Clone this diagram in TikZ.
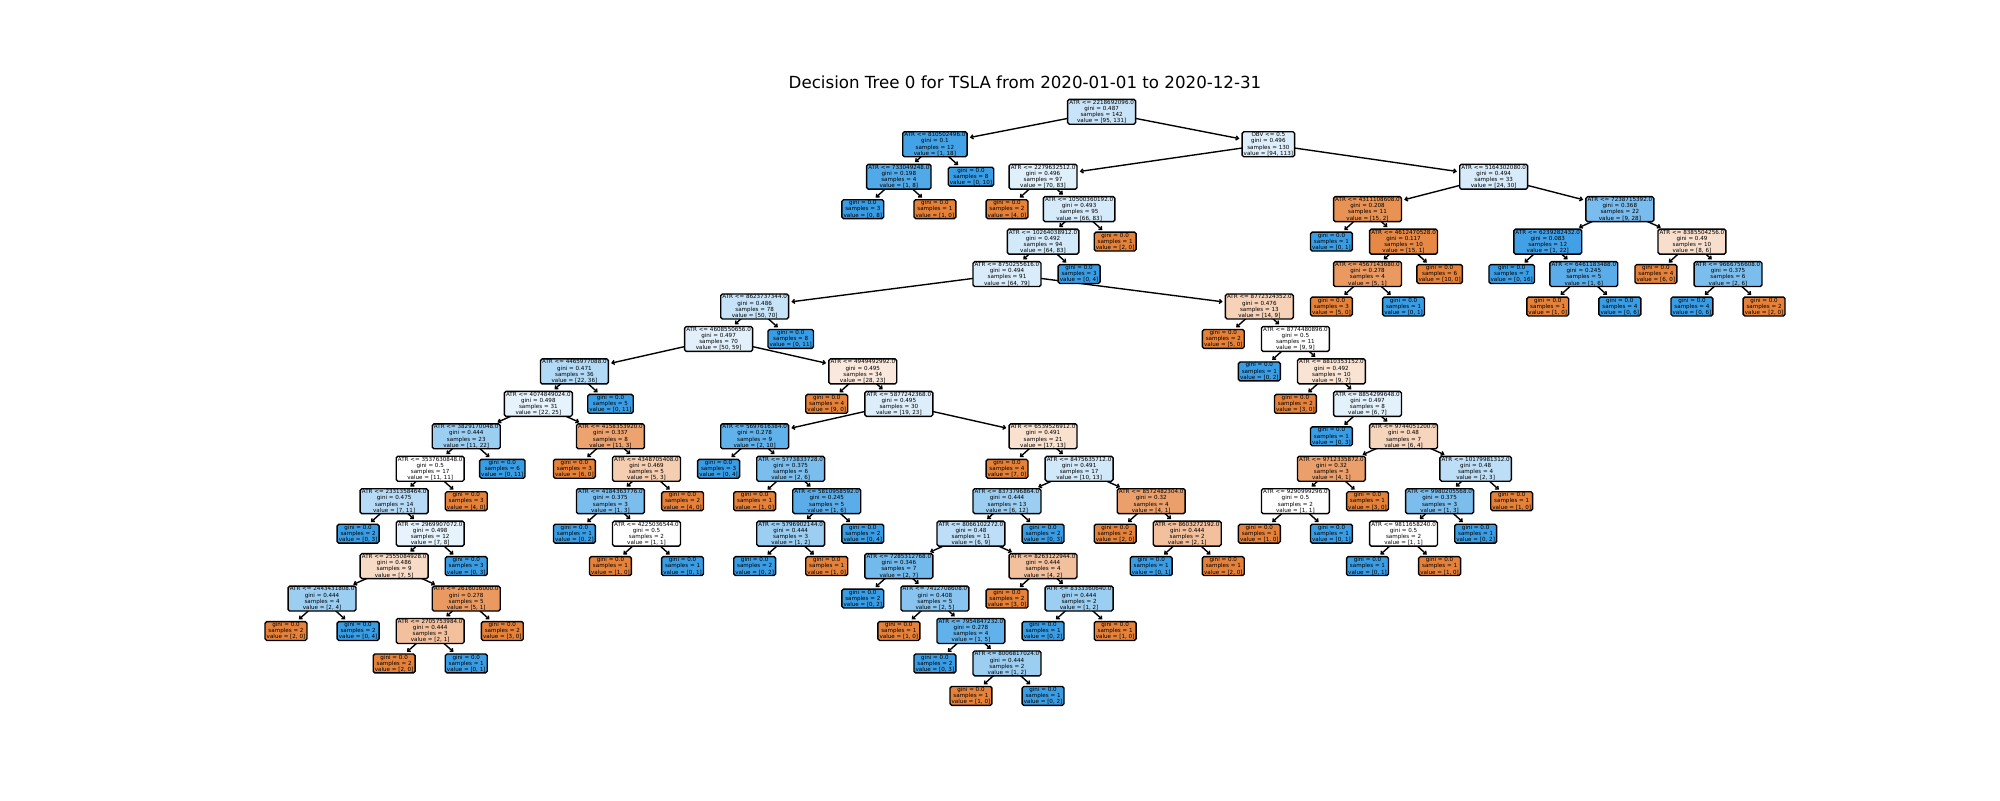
\documentclass[tikz,border=0pt]{standalone}
\usepackage{fontspec}
\setmainfont{DejaVu Sans}
\usetikzlibrary{arrows.meta}
\pgfdeclarelayer{background}
\pgfdeclarelayer{canvas}
\pgfsetlayers{canvas,background,main}
\definecolor{cA}{RGB}{229,129,57}
\definecolor{cB}{RGB}{57,157,229}
\newcommand\dtfill[2]{%
  \pgfmathsetmacro\dtal{100*(1-min(#1,#2)/max(#1,#2))}%
  \ifnum#1<#2\relax\colorlet{dtfc}{cB!\dtal!white}\else\colorlet{dtfc}{cA!\dtal!white}\fi}
% split node: name, k, depth, feature, threshold, gini, samples, a, b
\newcommand\sn[9]{\dtfill{#8}{#9}%
  \node[dtbox, fill=dtfc] (#1) at ({286+36.05*#2},{111.8+32.45*#3}) {#4 <= #5\\gini = #6\\samples = #7\\value = [#8, #9]};}
% leaf node: name, k, depth, samples, a, b
\newcommand\lf[6]{\dtfill{#5}{#6}%
  \node[dtbox, fill=dtfc] (#1) at ({286+36.05*#2},{111.8+32.45*#3}) {gini = 0.0\\samples = #4\\value = [#5, #6]};}
\newcommand\ed[2]{\draw[edge] (#1.center) -- (#2);}
\tikzset{
  dtbox/.style={draw=black, line width=1pt, rounded corners=1.2pt, inner xsep=1.2pt, inner ysep=0.55pt,
    align=center, font=\fontsize{4.03}{4.45}\selectfont, text=black},
  edge/.style={line width=1pt, -{Straight Barb[length=1.7pt,width=3pt]}, shorten >=1.5pt},
}
\begin{document}
\begin{tikzpicture}[x=0.72pt, y=-0.72pt]
\begin{pgfonlayer}{canvas}
\path[use as bounding box, fill=white] (0,0) rectangle (2000,800);
\end{pgfonlayer}
\node[font=\fontsize{12}{14}\selectfont, anchor=base] (title) at (1025,88) {Decision Tree 0 for TSLA from 2020-01-01 to 2020-12-31};
% splits
\sn{r}{22.625}{0}{ATR}{2218692096.0}{0.487}{142}{95}{131}
\sn{s810}{18}{1}{ATR}{810502496.0}{0.1}{12}{1}{18}
\sn{s733}{17}{2}{ATR}{733049248.0}{0.198}{4}{1}{8}
\sn{obv}{27.25}{1}{OBV}{0.5}{0.496}{130}{94}{113}
\sn{s2279}{21}{2}{ATR}{2279632512.0}{0.496}{97}{70}{83}
\sn{s10500}{22}{3}{ATR}{10500360192.0}{0.493}{95}{66}{83}
\sn{s10264}{21}{4}{ATR}{10264038912.0}{0.492}{94}{64}{83}
\sn{s8750}{20}{5}{ATR}{8750255616.0}{0.494}{91}{64}{79}
\sn{s8623}{13}{6}{ATR}{8623737344.0}{0.486}{78}{50}{70}
\sn{s4608}{12}{7}{ATR}{4608550656.0}{0.497}{70}{50}{59}
\sn{s4465}{8}{8}{ATR}{4465977088.0}{0.471}{36}{22}{36}
\sn{s4074}{7}{9}{ATR}{4074849024.0}{0.498}{31}{22}{25}
\sn{s3829}{5}{10}{ATR}{3829170048.0}{0.444}{23}{11}{22}
\sn{s3537}{4}{11}{ATR}{3537630848.0}{0.5}{17}{11}{11}
\sn{s2331}{3}{12}{ATR}{2331358464.0}{0.475}{14}{7}{11}
\sn{s2969}{4}{13}{ATR}{2969907072.0}{0.498}{12}{7}{8}
\sn{s2555}{3}{14}{ATR}{2555084928.0}{0.486}{9}{7}{5}
\sn{s2443}{1}{15}{ATR}{2443431808.0}{0.444}{4}{2}{4}
\sn{s2616}{5}{15}{ATR}{2616016000.0}{0.278}{5}{5}{1}
\sn{s2705}{4}{16}{ATR}{2705753984.0}{0.444}{3}{2}{1}
\sn{s4158}{9}{10}{ATR}{4158353920.0}{0.337}{8}{11}{3}
\sn{s4348}{10}{11}{ATR}{4348705408.0}{0.469}{5}{5}{3}
\sn{s4184}{9}{12}{ATR}{4184363776.0}{0.375}{3}{1}{3}
\sn{s4225}{10}{13}{ATR}{4225036544.0}{0.5}{2}{1}{1}
\sn{s4949}{16}{8}{ATR}{4949492992.0}{0.495}{34}{28}{23}
\sn{s5877}{17}{9}{ATR}{5877242368.0}{0.495}{30}{19}{23}
\sn{s5697}{13}{10}{ATR}{5697616384.0}{0.278}{9}{2}{10}
\sn{s5773}{14}{11}{ATR}{5773833728.0}{0.375}{6}{2}{6}
\sn{s5810}{15}{12}{ATR}{5810958592.0}{0.245}{5}{1}{6}
\sn{s5796}{14}{13}{ATR}{5796902144.0}{0.444}{3}{1}{2}
\sn{s6539}{21}{10}{ATR}{6539526912.0}{0.491}{21}{17}{13}
\sn{s8475}{22}{11}{ATR}{8475635712.0}{0.491}{17}{10}{13}
\sn{s8373}{20}{12}{ATR}{8373796864.0}{0.444}{13}{6}{12}
\sn{s8066}{19}{13}{ATR}{8066102272.0}{0.48}{11}{6}{9}
\sn{s7285}{17}{14}{ATR}{7285312768.0}{0.346}{7}{2}{7}
\sn{s7412}{18}{15}{ATR}{7412708608.0}{0.408}{5}{2}{5}
\sn{s7954}{19}{16}{ATR}{7954847232.0}{0.278}{4}{1}{5}
\sn{s8006}{20}{17}{ATR}{8006817024.0}{0.444}{2}{1}{2}
\sn{s8263}{21}{14}{ATR}{8263122944.0}{0.444}{4}{4}{2}
\sn{s8333}{22}{15}{ATR}{8333360640.0}{0.444}{2}{1}{2}
\sn{s8572}{24}{12}{ATR}{8572482304.0}{0.32}{4}{4}{1}
\sn{s8603}{25}{13}{ATR}{8603272192.0}{0.444}{2}{2}{1}
\sn{s8772}{27}{6}{ATR}{8772324352.0}{0.476}{13}{14}{9}
\sn{s8774}{28}{7}{ATR}{8774480896.0}{0.5}{11}{9}{9}
\sn{s8810}{29}{8}{ATR}{8810353152.0}{0.492}{10}{9}{7}
\sn{s8854}{30}{9}{ATR}{8854299648.0}{0.497}{8}{6}{7}
\sn{s9744}{31}{10}{ATR}{9744051200.0}{0.48}{7}{6}{4}
\sn{s9712}{29}{11}{ATR}{9712335872.0}{0.32}{3}{4}{1}
\sn{s9290}{28}{12}{ATR}{9290999296.0}{0.5}{2}{1}{1}
\sn{s10179}{33}{11}{ATR}{10179981312.0}{0.48}{4}{2}{3}
\sn{s9980}{32}{12}{ATR}{9980205568.0}{0.375}{3}{1}{3}
\sn{s9811}{31}{13}{ATR}{9811658240.0}{0.5}{2}{1}{1}
\sn{s5164}{33.5}{2}{ATR}{5164302080.0}{0.494}{33}{24}{30}
\sn{s4311}{30}{3}{ATR}{4311108608.0}{0.208}{11}{15}{2}
\sn{s4612}{31}{4}{ATR}{4612470528.0}{0.117}{10}{15}{1}
\sn{s4567}{30}{5}{ATR}{4567143680.0}{0.278}{4}{5}{1}
\sn{s7238}{37}{3}{ATR}{7238715392.0}{0.368}{22}{9}{28}
\sn{s6239}{35}{4}{ATR}{6239282432.0}{0.083}{12}{1}{22}
\sn{s6461}{36}{5}{ATR}{6461183488.0}{0.245}{5}{1}{6}
\sn{s8385}{39}{4}{ATR}{8385504256.0}{0.49}{10}{8}{6}
\sn{s9666}{40}{5}{ATR}{9666756608.0}{0.375}{6}{2}{6}
% leaves
\lf{s810R}{19}{2}{8}{0}{10}
\lf{s733L}{16}{3}{3}{0}{8}
\lf{s733R}{18}{3}{1}{1}{0}
\lf{s2279L}{20}{3}{2}{4}{0}
\lf{s10500R}{23}{4}{1}{2}{0}
\lf{s10264R}{22}{5}{3}{0}{4}
\lf{s8623R}{14}{7}{8}{0}{11}
\lf{s4465R}{9}{9}{5}{0}{11}
\lf{s3829R}{6}{11}{6}{0}{11}
\lf{s3537R}{5}{12}{3}{4}{0}
\lf{s2331L}{2}{13}{2}{0}{3}
\lf{s2969R}{5}{14}{3}{0}{3}
\lf{s2443L}{0}{16}{2}{2}{0}
\lf{s2443R}{2}{16}{2}{0}{4}
\lf{s2616R}{6}{16}{2}{3}{0}
\lf{s2705L}{3}{17}{2}{2}{0}
\lf{s2705R}{5}{17}{1}{0}{1}
\lf{s4158L}{8}{11}{3}{6}{0}
\lf{s4348R}{11}{12}{2}{4}{0}
\lf{s4184L}{8}{13}{1}{0}{2}
\lf{s4225L}{9}{14}{1}{1}{0}
\lf{s4225R}{11}{14}{1}{0}{1}
\lf{s4949L}{15}{9}{4}{9}{0}
\lf{s5697L}{12}{11}{3}{0}{4}
\lf{s5773L}{13}{12}{1}{1}{0}
\lf{s5810R}{16}{13}{2}{0}{4}
\lf{s5796L}{13}{14}{2}{0}{2}
\lf{s5796R}{15}{14}{1}{1}{0}
\lf{s6539L}{20}{11}{4}{7}{0}
\lf{s8373R}{21}{13}{2}{0}{3}
\lf{s7285L}{16}{15}{2}{0}{2}
\lf{s7412L}{17}{16}{1}{1}{0}
\lf{s7954L}{18}{17}{2}{0}{3}
\lf{s8006L}{19}{18}{1}{1}{0}
\lf{s8006R}{21}{18}{1}{0}{2}
\lf{s8263L}{20}{15}{2}{3}{0}
\lf{s8333L}{21}{16}{1}{0}{2}
\lf{s8333R}{23}{16}{1}{1}{0}
\lf{s8572L}{23}{13}{2}{2}{0}
\lf{s8603L}{24}{14}{1}{0}{1}
\lf{s8603R}{26}{14}{1}{2}{0}
\lf{s8772L}{26}{7}{2}{5}{0}
\lf{s8774L}{27}{8}{1}{0}{2}
\lf{s8810L}{28}{9}{2}{3}{0}
\lf{s8854L}{29}{10}{1}{0}{3}
\lf{s9712R}{30}{12}{1}{3}{0}
\lf{s9290L}{27}{13}{1}{1}{0}
\lf{s9290R}{29}{13}{1}{0}{1}
\lf{s10179R}{34}{12}{1}{1}{0}
\lf{s9980R}{33}{13}{1}{0}{2}
\lf{s9811L}{30}{14}{1}{0}{1}
\lf{s9811R}{32}{14}{1}{1}{0}
\lf{s4311L}{29}{4}{1}{0}{1}
\lf{s4612R}{32}{5}{6}{10}{0}
\lf{s4567L}{29}{6}{3}{5}{0}
\lf{s4567R}{31}{6}{1}{0}{1}
\lf{s6239L}{34}{5}{7}{0}{16}
\lf{s6461L}{35}{6}{1}{1}{0}
\lf{s6461R}{37}{6}{4}{0}{6}
\lf{s8385L}{38}{5}{4}{6}{0}
\lf{s9666L}{39}{6}{4}{0}{6}
\lf{s9666R}{41}{6}{2}{2}{0}
% edges
\begin{pgfonlayer}{background}
\ed{r}{s810}\ed{r}{obv}
\ed{s810}{s733}\ed{s810}{s810R}
\ed{s733}{s733L}\ed{s733}{s733R}
\ed{obv}{s2279}\ed{obv}{s5164}
\ed{s2279}{s2279L}\ed{s2279}{s10500}
\ed{s10500}{s10264}\ed{s10500}{s10500R}
\ed{s10264}{s8750}\ed{s10264}{s10264R}
\ed{s8750}{s8623}\ed{s8750}{s8772}
\ed{s8623}{s4608}\ed{s8623}{s8623R}
\ed{s4608}{s4465}\ed{s4608}{s4949}
\ed{s4465}{s4074}\ed{s4465}{s4465R}
\ed{s4074}{s3829}\ed{s4074}{s4158}
\ed{s3829}{s3537}\ed{s3829}{s3829R}
\ed{s3537}{s2331}\ed{s3537}{s3537R}
\ed{s2331}{s2331L}\ed{s2331}{s2969}
\ed{s2969}{s2555}\ed{s2969}{s2969R}
\ed{s2555}{s2443}\ed{s2555}{s2616}
\ed{s2443}{s2443L}\ed{s2443}{s2443R}
\ed{s2616}{s2705}\ed{s2616}{s2616R}
\ed{s2705}{s2705L}\ed{s2705}{s2705R}
\ed{s4158}{s4158L}\ed{s4158}{s4348}
\ed{s4348}{s4184}\ed{s4348}{s4348R}
\ed{s4184}{s4184L}\ed{s4184}{s4225}
\ed{s4225}{s4225L}\ed{s4225}{s4225R}
\ed{s4949}{s4949L}\ed{s4949}{s5877}
\ed{s5877}{s5697}\ed{s5877}{s6539}
\ed{s5697}{s5697L}\ed{s5697}{s5773}
\ed{s5773}{s5773L}\ed{s5773}{s5810}
\ed{s5810}{s5796}\ed{s5810}{s5810R}
\ed{s5796}{s5796L}\ed{s5796}{s5796R}
\ed{s6539}{s6539L}\ed{s6539}{s8475}
\ed{s8475}{s8373}\ed{s8475}{s8572}
\ed{s8373}{s8066}\ed{s8373}{s8373R}
\ed{s8066}{s7285}\ed{s8066}{s8263}
\ed{s7285}{s7285L}\ed{s7285}{s7412}
\ed{s7412}{s7412L}\ed{s7412}{s7954}
\ed{s7954}{s7954L}\ed{s7954}{s8006}
\ed{s8006}{s8006L}\ed{s8006}{s8006R}
\ed{s8263}{s8263L}\ed{s8263}{s8333}
\ed{s8333}{s8333L}\ed{s8333}{s8333R}
\ed{s8572}{s8572L}\ed{s8572}{s8603}
\ed{s8603}{s8603L}\ed{s8603}{s8603R}
\ed{s8772}{s8772L}\ed{s8772}{s8774}
\ed{s8774}{s8774L}\ed{s8774}{s8810}
\ed{s8810}{s8810L}\ed{s8810}{s8854}
\ed{s8854}{s8854L}\ed{s8854}{s9744}
\ed{s9744}{s9712}\ed{s9744}{s10179}
\ed{s9712}{s9290}\ed{s9712}{s9712R}
\ed{s9290}{s9290L}\ed{s9290}{s9290R}
\ed{s10179}{s9980}\ed{s10179}{s10179R}
\ed{s9980}{s9811}\ed{s9980}{s9980R}
\ed{s9811}{s9811L}\ed{s9811}{s9811R}
\ed{s5164}{s4311}\ed{s5164}{s7238}
\ed{s4311}{s4311L}\ed{s4311}{s4612}
\ed{s4612}{s4567}\ed{s4612}{s4612R}
\ed{s4567}{s4567L}\ed{s4567}{s4567R}
\ed{s7238}{s6239}\ed{s7238}{s8385}
\ed{s6239}{s6239L}\ed{s6239}{s6461}
\ed{s6461}{s6461L}\ed{s6461}{s6461R}
\ed{s8385}{s8385L}\ed{s8385}{s9666}
\ed{s9666}{s9666L}\ed{s9666}{s9666R}
\end{pgfonlayer}
\end{tikzpicture}
\end{document}
